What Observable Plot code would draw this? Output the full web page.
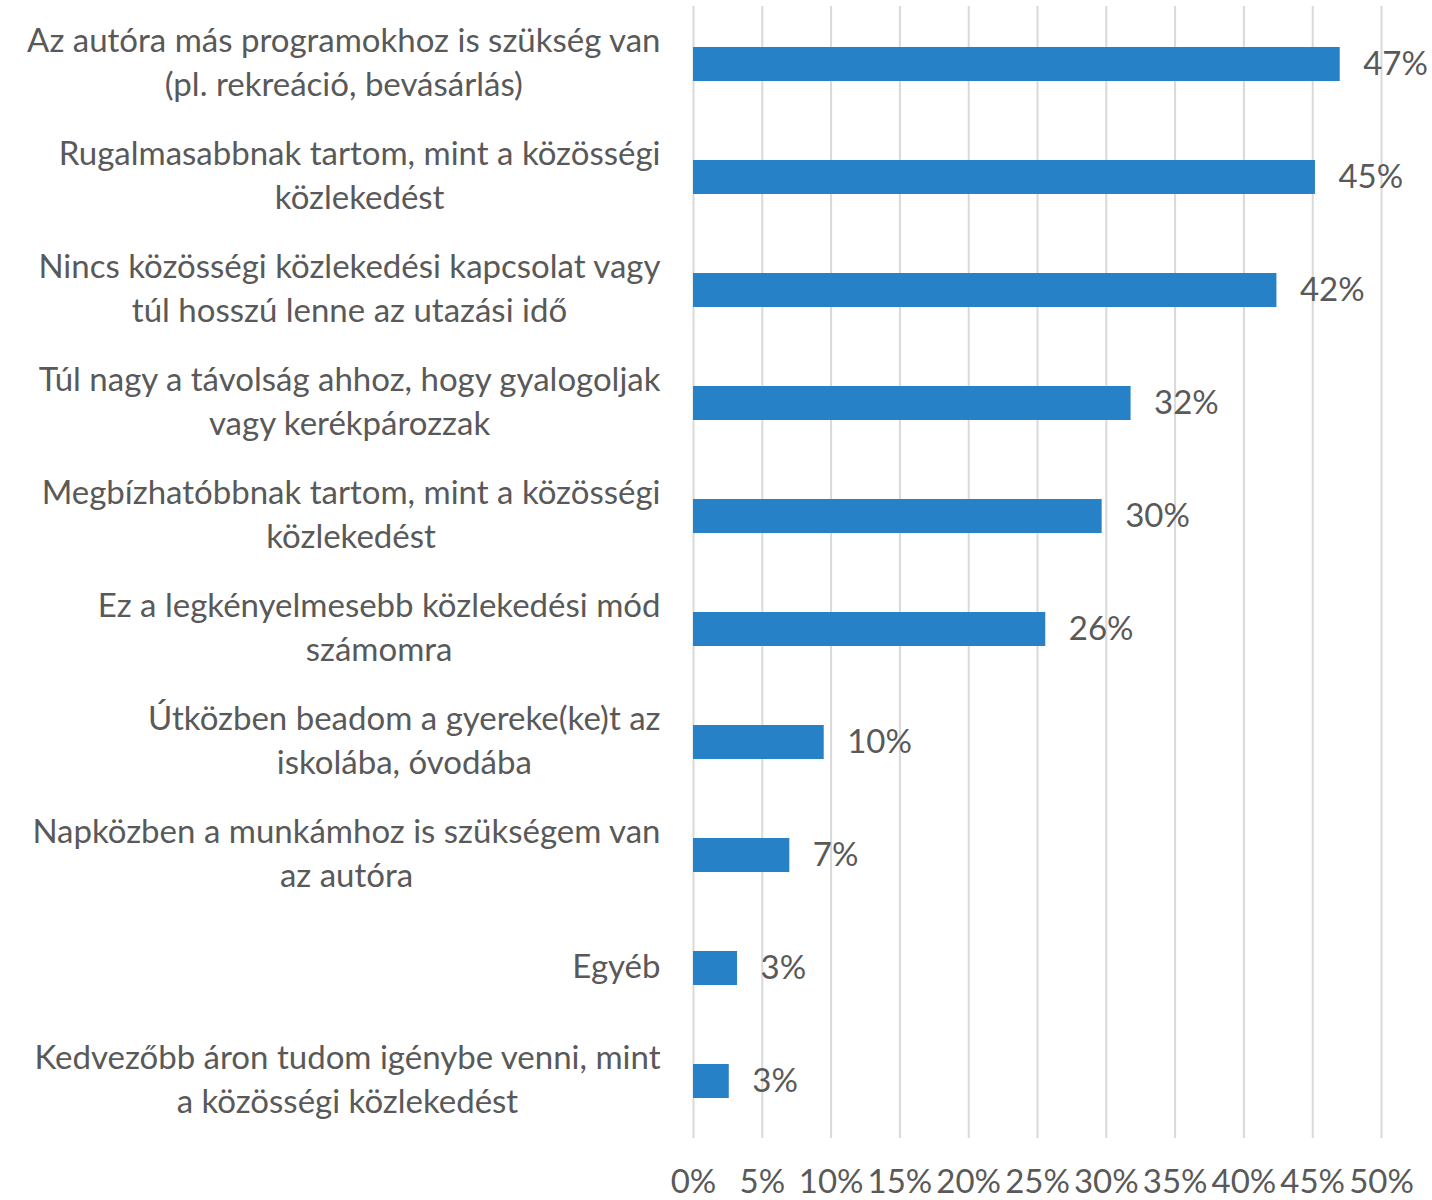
<!DOCTYPE html>
<html>
<head>
<meta charset="utf-8">
<script src="https://cdn.jsdelivr.net/npm/d3@7"></script>
<script src="https://cdn.jsdelivr.net/npm/@observablehq/plot@0.6"></script>
<style>
  html, body { margin: 0; padding: 0; background: #fff; }
  #chart { width: 1432px; height: 1200px; }
</style>
</head>
<body>
<div id="chart"></div>
<script>
const categories = [
  "Az autóra más programokhoz is szükség van\n(pl. rekreáció, bevásárlás)",
  "Rugalmasabbnak tartom, mint a közösségi\nközlekedést",
  "Nincs közösségi közlekedési kapcsolat vagy\ntúl hosszú lenne az utazási idő",
  "Túl nagy a távolság ahhoz, hogy gyalogoljak\nvagy kerékpározzak",
  "Megbízhatóbbnak tartom, mint a közösségi\nközlekedést",
  "Ez a legkényelmesebb közlekedési mód\nszámomra",
  "Útközben beadom a gyereke(ke)t az\niskolába, óvodába",
  "Napközben a munkámhoz is szükségem van\naz autóra",
  "Egyéb",
  "Kedvezőbb áron tudom igénybe venni, mint\na közösségi közlekedést"
];
const values = [47.0, 45.2, 42.4, 31.8, 29.7, 25.6, 9.5, 7.0, 3.2, 2.6];
const valueLabels = ["47%", "45%", "42%", "32%", "30%", "26%", "10%", "7%", "3%", "3%"];
const xTicks = [0, 5, 10, 15, 20, 25, 30, 35, 40, 45, 50];
const xTickLabels = ["0%", "5%", "10%", "15%", "20%", "25%", "30%", "35%", "40%", "45%", "50%"];

const data = categories.map((c, i) => ({cat: c, value: values[i], label: valueLabels[i]}));

const FONT = "Lato, 'Open Sans', sans-serif";
const TEXT = "#595959";
const FS = 33;

const chart = Plot.plot({
  width: 1432,
  height: 1200,
  marginLeft: 693,
  marginRight: 51,
  marginTop: 6,
  marginBottom: 62,
  style: {fontFamily: FONT, fontSize: FS + "px", color: TEXT, background: "#fff"},
  x: {domain: [0, 50], ticks: xTicks, tickFormat: (d) => xTickLabels[xTicks.indexOf(d)], label: null},
  y: {domain: categories, paddingInner: 0.7, paddingOuter: 0.35, label: null},
  marks: [
    Plot.ruleX(xTicks, {stroke: "#d9d9d9", strokeWidth: 2}),
    Plot.barX(data, {x: "value", y: "cat", fill: "#2781c7"}),
    Plot.text(data, {x: "value", y: "cat", text: "label", textAnchor: "start", dx: 23, fill: TEXT, fontSize: FS}),
    Plot.axisX({ticks: xTicks, tickSize: 0, tickPadding: 31, fontSize: FS, fill: TEXT, tickFormat: (d) => xTickLabels[xTicks.indexOf(d)]}),
    Plot.axisY({tickSize: 0, tickPadding: 33, dy: -5, fontSize: FS, fill: TEXT, lineHeight: 1.34})
  ]
});

document.getElementById("chart").appendChild(chart);

// Center wrapped lines within each label block (block stays right-aligned)
const yTexts = chart.querySelectorAll('[aria-label="y-axis tick label"] text');
yTexts.forEach((t) => {
  const spans = t.querySelectorAll("tspan");
  let maxW = 0;
  if (spans.length) {
    spans.forEach((s) => { maxW = Math.max(maxW, s.getComputedTextLength()); });
    spans.forEach((s) => { s.setAttribute("x", String(-maxW / 2)); });
  } else {
    maxW = t.getComputedTextLength();
    t.setAttribute("x", String(-maxW / 2));
  }
  t.setAttribute("text-anchor", "middle");
});
</script>
</body>
</html>
